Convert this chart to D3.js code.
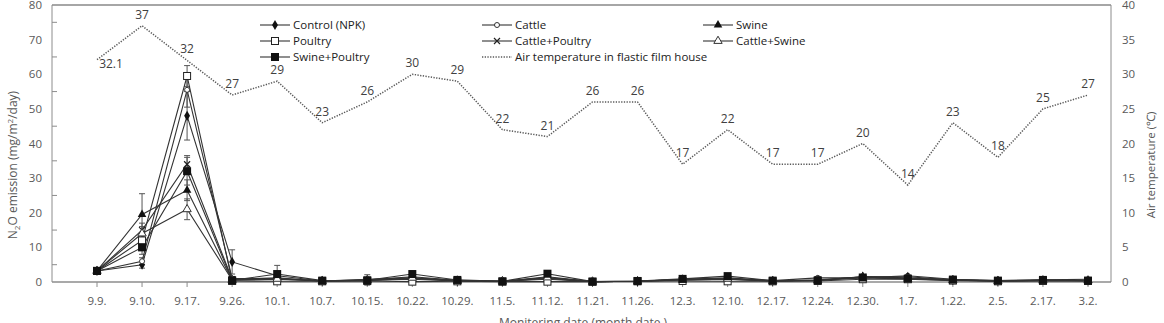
<!DOCTYPE html>
<html>
<head>
<meta charset="utf-8">
<script src="https://cdn.jsdelivr.net/npm/d3@7"></script>
<style>
  body { margin: 0; background: #fff; }
  text { font-family: "Open Sans", "Liberation Sans", sans-serif; }
</style>
</head>
<body>
<div id="chart"></div>
<script>
// monitoring dates (month.date.)
const dates = ["9.9.", "9.10.", "9.17.", "9.26.", "10.1.", "10.7.", "10.15.", "10.22.", "10.29.", "11.5.",
    "11.12.", "11.21.", "11.26.", "12.3.", "12.10.", "12.17.", "12.24.", "12.30.", "1.7.", "1.22.", "2.5.", "2.17.", "3.2."];

// air temperature (right axis)
const airTemp = [32.1, 37, 32, 27, 29, 23, 26, 30, 29, 22, 21, 26, 26, 17, 22, 17, 17, 20, 14, 23, 18, 25, 27];

// N2O emission, mg/m2/day
const control      = [3.2, 5, 48, 5.8, 1.8, 0.3, 0.4, 1.0, 0.3, 0.2, 1.0, 0.1, 0.2, 0.6, 0.8, 0.3, 0.5, 1.5, 1.2, 0.5, 0.3, 0.5, 0.4];
const cattle       = [3.2, 6, 55.5, 1.0, 1.0, 0.3, 0.8, 1.2, 0.4, 0.2, 1.2, 0.1, 0.2, 0.8, 1.2, 0.4, 1.2, 1.2, 1.8, 0.8, 0.4, 0.6, 0.8];
const swine        = [3.2, 19.5, 26.5, 0.5, 0.8, 0.3, 0.5, 0.8, 0.3, 0.2, 0.8, 0.1, 0.2, 0.6, 0.8, 0.3, 0.4, 1.6, 1.5, 0.6, 0.3, 0.4, 0.4];
const poultry      = [3.2, 12, 59.5, 0.3, 0.2, 0.2, 0.3, 0.1, 0.2, 0.1, 0.1, 0.1, 0.2, 0.3, 0.2, 0.2, 0.3, 0.8, 0.8, 0.4, 0.2, 0.3, 0.3];
const cattlePoultry = [3.2, 15, 34, 0.8, 1.2, 0.3, 0.6, 1.5, 0.5, 0.2, 1.5, 0.1, 0.2, 0.8, 1.0, 0.3, 0.6, 1.4, 1.0, 0.6, 0.3, 0.5, 0.5];
const cattleSwine  = [3.2, 14, 21, 0.6, 0.9, 0.3, 0.5, 1.2, 0.4, 0.2, 1.3, 0.1, 0.2, 0.7, 0.9, 0.3, 0.5, 1.2, 0.9, 0.5, 0.3, 0.4, 0.4];
const swinePoultry = [3.2, 10, 32, 0.5, 2.3, 0.4, 0.5, 2.3, 0.6, 0.2, 2.4, 0.1, 0.3, 0.9, 1.7, 0.4, 0.5, 1.3, 1.0, 0.7, 0.4, 0.6, 0.4];

// standard errors (only a few are big enough to see)
const errControl = [0, 1, 7, 3.5, 0.5, 0, 0, 0, 0, 0, 0, 0, 0, 0, 0, 0, 0, 0, 0, 0, 0, 0, 0];
const errCattle  = [0, 1, 5, 0.5, 0.5, 0, 0, 0, 0, 0, 0, 0, 0, 0, 0, 0, 0, 0, 0, 0, 0, 0, 0];
const errSwine   = [0, 6, 3, 0.3, 0.5, 0, 0, 0, 0, 0, 0, 0, 0, 0, 0, 0, 0, 0, 0, 0, 0, 0, 0];
const errPoultry = [0, 2, 3, 0.3, 0.2, 0, 0, 0, 0, 0, 0, 0, 0, 0, 0, 0, 0, 0, 0, 0, 0, 0, 0];
const errCP      = [0, 2, 2.5, 0.3, 0.5, 0, 1.5, 0, 0, 0, 0, 0, 0, 0, 0, 0, 0, 0, 0, 0, 0, 0, 0];
const errCS      = [0, 2, 3, 0.3, 0.5, 0, 0, 0, 0, 0, 0, 0, 0, 0, 0, 0, 0, 0, 0, 0, 0, 0, 0];
const errSP      = [0, 2, 4, 0.3, 2.5, 0, 0, 0.8, 0, 0, 0.8, 0, 0, 0, 0, 0, 0, 0, 0, 0, 0, 0, 0];

const seriesNames = ["Control (NPK)", "Cattle", "Swine", "Poultry", "Cattle+Poultry", "Cattle+Swine", "Swine+Poultry"];
const tempName = "Air temperature in flastic film house";

const series = [
    {name: seriesNames[0], values: control, err: errControl, marker: "diamond"},
    {name: seriesNames[1], values: cattle, err: errCattle, marker: "circle"},
    {name: seriesNames[2], values: swine, err: errSwine, marker: "triFilled"},
    {name: seriesNames[3], values: poultry, err: errPoultry, marker: "squareOpen"},
    {name: seriesNames[4], values: cattlePoultry, err: errCP, marker: "cross"},
    {name: seriesNames[5], values: cattleSwine, err: errCS, marker: "triOpen"},
    {name: seriesNames[6], values: swinePoultry, err: errSP, marker: "squareFilled"}
];

const W = 1164, H = 323;
const plot = {left: 52, right: 1111, top: 5, bottom: 282};
const lineColor = "#333";
const axisColor = "#8c8c8c";
const labelColor = "#595959";

const svg = d3.select("#chart").append("svg")
    .attr("width", W)
    .attr("height", H);

// scales
const x = d3.scalePoint()
    .domain(dates)
    .range([97, 1088]);

const y = d3.scaleLinear()
    .domain([0, 80])
    .range([plot.bottom, plot.top]);

const yT = d3.scaleLinear()
    .domain([0, 40])
    .range([plot.bottom, plot.top]);

// frame
svg.append("line")
    .attr("x1", plot.left).attr("x2", plot.right)
    .attr("y1", plot.top).attr("y2", plot.top)
    .attr("stroke", "#a6a6a6").attr("stroke-width", 2);
svg.append("line")
    .attr("x1", plot.left).attr("x2", plot.left)
    .attr("y1", plot.top).attr("y2", plot.bottom)
    .attr("stroke", axisColor);
svg.append("line")
    .attr("x1", plot.right).attr("x2", plot.right)
    .attr("y1", plot.top).attr("y2", plot.bottom)
    .attr("stroke", axisColor);
svg.append("line")
    .attr("x1", plot.left).attr("x2", plot.right)
    .attr("y1", plot.bottom).attr("y2", plot.bottom)
    .attr("stroke", axisColor).attr("stroke-width", 1.5);

// left axis labels + inner minor ticks
svg.selectAll(".ytick")
    .data(d3.range(0, 81, 10))
    .enter().append("text")
    .attr("class", "ytick")
    .attr("x", 42)
    .attr("y", d => y(d) + 4)
    .attr("text-anchor", "end")
    .attr("font-size", 11.5)
    .attr("fill", labelColor)
    .text(d => d);

svg.selectAll(".yminor")
    .data(d3.range(5, 80, 10))
    .enter().append("line")
    .attr("class", "yminor")
    .attr("x1", plot.left).attr("x2", plot.left + 5)
    .attr("y1", d => y(d)).attr("y2", d => y(d))
    .attr("stroke", axisColor);

// right axis labels
svg.selectAll(".ttick")
    .data(d3.range(0, 41, 5))
    .enter().append("text")
    .attr("class", "ttick")
    .attr("x", 1122)
    .attr("y", d => yT(d) + 4)
    .attr("font-size", 11.5)
    .attr("fill", labelColor)
    .text(d => d);

// x ticks and labels
svg.selectAll(".xtick")
    .data(dates)
    .enter().append("line")
    .attr("class", "xtick")
    .attr("x1", d => x(d)).attr("x2", d => x(d))
    .attr("y1", plot.bottom).attr("y2", plot.bottom + 5)
    .attr("stroke", axisColor);

svg.selectAll(".xlabel")
    .data(dates)
    .enter().append("text")
    .attr("class", "xlabel")
    .attr("x", d => x(d))
    .attr("y", 305)
    .attr("text-anchor", "middle")
    .attr("font-size", 11.5)
    .attr("fill", labelColor)
    .text(d => d);

// axis titles
svg.append("text")
    .attr("x", 583).attr("y", 327)
    .attr("text-anchor", "middle")
    .attr("font-size", 12)
    .attr("fill", labelColor)
    .text("Monitering date (month date )");

const yTitle = svg.append("text")
    .attr("transform", "translate(17,165) rotate(-90)")
    .attr("text-anchor", "middle")
    .attr("font-size", 12)
    .attr("fill", labelColor);
yTitle.append("tspan").text("N");
yTitle.append("tspan").attr("font-size", 8).attr("dy", 3).text("2");
yTitle.append("tspan").attr("dy", -3).text("O emission  (mg/m");
yTitle.append("tspan").attr("font-size", 8).attr("dy", -4).text("2");
yTitle.append("tspan").attr("dy", 4).text("/day)");

svg.append("text")
    .attr("transform", "translate(1155,165) rotate(-90)")
    .attr("text-anchor", "middle")
    .attr("font-size", 11.5)
    .attr("fill", labelColor)
    .text("Air temperature (\u2103)");

// temperature line
const tempLine = d3.line()
    .x((d, i) => x(dates[i]))
    .y(d => yT(d));

svg.append("path")
    .datum(airTemp)
    .attr("d", tempLine)
    .attr("fill", "none")
    .attr("stroke", "#5a5a5a")
    .attr("stroke-width", 1.5)
    .attr("stroke-dasharray", "1.3,1.4");

svg.selectAll(".tlabel")
    .data(airTemp)
    .enter().append("text")
    .attr("class", "tlabel")
    .attr("x", (d, i) => i === 0 ? x(dates[i]) + 14 : x(dates[i]))
    .attr("y", (d, i) => i === 0 ? yT(d) + 8 : yT(d) - 7)
    .attr("text-anchor", "middle")
    .attr("font-size", 12)
    .attr("fill", "#404040")
    .text(d => d);

// marker drawing
function drawMarker(g, type, cx, cy) {
    if (type === "diamond") {
        g.append("path").attr("d", d3.symbol(d3.symbolDiamond, 30)())
            .attr("transform", `translate(${cx},${cy})`).attr("fill", "#111");
    } else if (type === "circle") {
        g.append("circle").attr("cx", cx).attr("cy", cy).attr("r", 2.5)
            .attr("fill", "#fff").attr("stroke", "#333");
    } else if (type === "triFilled") {
        g.append("path").attr("d", d3.symbol(d3.symbolTriangle, 32)())
            .attr("transform", `translate(${cx},${cy})`).attr("fill", "#111");
    } else if (type === "triOpen") {
        g.append("path").attr("d", d3.symbol(d3.symbolTriangle, 30)())
            .attr("transform", `translate(${cx},${cy})`).attr("fill", "#fff").attr("stroke", "#333");
    } else if (type === "squareOpen") {
        g.append("rect").attr("x", cx - 3.5).attr("y", cy - 3.5).attr("width", 7).attr("height", 7)
            .attr("fill", "#fff").attr("stroke", "#222");
    } else if (type === "squareFilled") {
        g.append("rect").attr("x", cx - 4).attr("y", cy - 4).attr("width", 8).attr("height", 8)
            .attr("fill", "#111");
    } else if (type === "cross") {
        g.append("path").attr("d", `M${cx - 3},${cy - 3}L${cx + 3},${cy + 3}M${cx - 3},${cy + 3}L${cx + 3},${cy - 3}`)
            .attr("stroke", "#222").attr("stroke-width", 1.2);
    }
}

const line = d3.line()
    .x((d, i) => x(dates[i]))
    .y(d => y(d));

// error bars first, lines, then markers
series.forEach(s => {
    const g = svg.append("g");
    s.values.forEach((v, i) => {
        const e = s.err[i];
        if (e <= 0) return;
        const cx = x(dates[i]);
        g.append("line")
            .attr("x1", cx).attr("x2", cx)
            .attr("y1", y(v - e)).attr("y2", y(v + e))
            .attr("stroke", "#555");
        [v - e, v + e].forEach(t => {
            g.append("line")
                .attr("x1", cx - 3).attr("x2", cx + 3)
                .attr("y1", y(t)).attr("y2", y(t))
                .attr("stroke", "#555");
        });
    });
});

series.forEach(s => {
    svg.append("path")
        .datum(s.values)
        .attr("d", line)
        .attr("fill", "none")
        .attr("stroke", lineColor)
        .attr("stroke-width", 1.1);
});

series.forEach(s => {
    const g = svg.append("g");
    s.values.forEach((v, i) => drawMarker(g, s.marker, x(dates[i]), y(v)));
});

// legend
const legendCols = [260, 482, 703];
const legendRows = [25, 41, 57];
const legendItems = series.map(s => ({name: s.name, marker: s.marker, dotted: false}))
    .concat([{name: tempName, marker: null, dotted: true}]);

legendItems.forEach((d, i) => {
    const lx = legendCols[i % 3], ly = legendRows[Math.floor(i / 3)];
    const g = svg.append("g");
    g.append("line")
        .attr("x1", lx).attr("x2", lx + 30)
        .attr("y1", ly).attr("y2", ly)
        .attr("stroke", d.dotted ? "#5a5a5a" : lineColor)
        .attr("stroke-width", d.dotted ? 1.5 : 1.1)
        .attr("stroke-dasharray", d.dotted ? "1.3,1.4" : null);
    if (d.marker) drawMarker(g, d.marker, lx + 15, ly);
    g.append("text")
        .attr("x", lx + 33)
        .attr("y", ly + 4)
        .attr("font-size", 11.5)
        .attr("fill", "#222")
        .text(d.name);
});
</script>
</body>
</html>
